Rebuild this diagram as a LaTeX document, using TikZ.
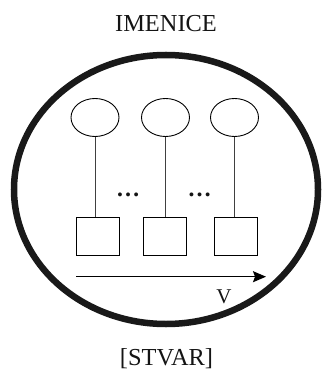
\documentclass[tikz,border=0pt]{standalone}
\usepackage{fontspec}
\setmainfont{Liberation Serif}
\usetikzlibrary{arrows.meta,shapes.geometric}
\begin{document}
\begin{tikzpicture}[x=1pt,y=-1pt,
  bigring/.style={draw=black!90, line width=6.5pt},
  unitball/.style={draw, ellipse, line width=0.9pt, minimum width=48pt, minimum height=38pt, inner sep=0pt},
  unitbox/.style={draw, rectangle, line width=0.9pt, minimum width=43pt, minimum height=37.5pt, inner sep=0pt},
  link/.style={draw=black!75, line width=0.8pt},
  label/.style={anchor=base, inner sep=0pt, font=\fontsize{24.4}{29}\selectfont, text=black!92}]
\useasboundingbox (0,0) rectangle (323,371);
\node[label] (top) at (166,31.7) {IMENICE};
\node[label] (bot) at (166.5,365) {[STVAR]};
\draw[bigring] (166,189.5) ellipse [x radius=152, y radius=134.5];
\node[unitball] (e1) at (95,117.5) {};
\node[unitball] (e2) at (165.5,117.5) {};
\node[unitball] (e3) at (234.5,117.5) {};
\node[unitbox] (s1) at (97.5,236.2) {};
\node[unitbox] (s2) at (164.5,236.2) {};
\node[unitbox] (s3) at (235.5,236.2) {};
\draw[link] (e1.south) -- (e1.south |- s1.north);
\draw[link] (e2.south) -- (e2.south |- s2.north);
\draw[link] (e3.south) -- (e3.south |- s3.north);
\node[label, font=\bfseries\fontsize{24}{29}\selectfont] (d1) at (128,196) {…};
\node[label, font=\bfseries\fontsize{24}{29}\selectfont] (d2) at (199.5,196) {…};
\coordinate (a1) at (76,276.7);
\coordinate (a2) at (266,276.7);
\draw[line width=1.5pt, -{Stealth[length=13pt, width=11pt, inset=2pt]}] (a1) -- (a2);
\node[label, font=\fontsize{21}{25}\selectfont] (v) at (224,303) {V};
\end{tikzpicture}
\end{document}
